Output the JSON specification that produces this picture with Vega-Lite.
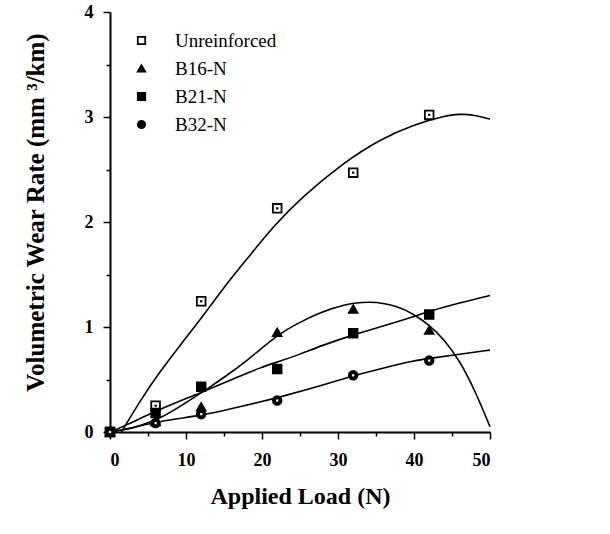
{
  "$schema": "https://vega.github.io/schema/vega-lite/v6.json",
  "width": 380,
  "height": 420,
  "autosize": "none",
  "padding": {"left": 110, "top": 12, "right": 120, "bottom": 102},
  "background": "white",
  "config": {"view": {"stroke": null}, "font": "Liberation Serif"},
  "datasets": {
    "points": [
      {"series": "Unreinforced", "load": 0, "rate": 0},
      {"series": "Unreinforced", "load": 6, "rate": 0.25},
      {"series": "Unreinforced", "load": 12, "rate": 1.245},
      {"series": "Unreinforced", "load": 22, "rate": 2.13},
      {"series": "Unreinforced", "load": 32, "rate": 2.47},
      {"series": "Unreinforced", "load": 42, "rate": 3.02},
      {"series": "B16-N", "load": 0, "rate": 0},
      {"series": "B16-N", "load": 6, "rate": 0.1},
      {"series": "B16-N", "load": 12, "rate": 0.24},
      {"series": "B16-N", "load": 22, "rate": 0.95},
      {"series": "B16-N", "load": 32, "rate": 1.17},
      {"series": "B16-N", "load": 42, "rate": 0.97},
      {"series": "B21-N", "load": 0, "rate": 0},
      {"series": "B21-N", "load": 6, "rate": 0.18},
      {"series": "B21-N", "load": 12, "rate": 0.43},
      {"series": "B21-N", "load": 22, "rate": 0.6},
      {"series": "B21-N", "load": 32, "rate": 0.94},
      {"series": "B21-N", "load": 42, "rate": 1.12},
      {"series": "B32-N", "load": 0, "rate": 0},
      {"series": "B32-N", "load": 6, "rate": 0.085},
      {"series": "B32-N", "load": 12, "rate": 0.17},
      {"series": "B32-N", "load": 22, "rate": 0.3},
      {"series": "B32-N", "load": 32, "rate": 0.54},
      {"series": "B32-N", "load": 42, "rate": 0.68}
    ],
    "curves": [
      {"series": "Unreinforced", "load": 1.5, "rate": 0},
      {"series": "Unreinforced", "load": 4, "rate": 0.3},
      {"series": "Unreinforced", "load": 6.3, "rate": 0.55},
      {"series": "Unreinforced", "load": 9.7, "rate": 0.87},
      {"series": "Unreinforced", "load": 12.5, "rate": 1.13},
      {"series": "Unreinforced", "load": 15.2, "rate": 1.4},
      {"series": "Unreinforced", "load": 18.5, "rate": 1.69},
      {"series": "Unreinforced", "load": 21.5, "rate": 1.96},
      {"series": "Unreinforced", "load": 25.3, "rate": 2.24},
      {"series": "Unreinforced", "load": 30.8, "rate": 2.57},
      {"series": "Unreinforced", "load": 35.6, "rate": 2.79},
      {"series": "Unreinforced", "load": 40, "rate": 2.93},
      {"series": "Unreinforced", "load": 44, "rate": 3.01},
      {"series": "Unreinforced", "load": 46, "rate": 3.03},
      {"series": "Unreinforced", "load": 48, "rate": 3.02},
      {"series": "Unreinforced", "load": 50, "rate": 2.98},
      {"series": "B16-N", "load": 0, "rate": 0},
      {"series": "B16-N", "load": 3, "rate": 0.03},
      {"series": "B16-N", "load": 7, "rate": 0.14},
      {"series": "B16-N", "load": 10, "rate": 0.28},
      {"series": "B16-N", "load": 13, "rate": 0.42},
      {"series": "B16-N", "load": 15.6, "rate": 0.55},
      {"series": "B16-N", "load": 18, "rate": 0.68},
      {"series": "B16-N", "load": 20, "rate": 0.8},
      {"series": "B16-N", "load": 22, "rate": 0.92},
      {"series": "B16-N", "load": 24.5, "rate": 1.03},
      {"series": "B16-N", "load": 27.7, "rate": 1.14},
      {"series": "B16-N", "load": 30.5, "rate": 1.21},
      {"series": "B16-N", "load": 34.2, "rate": 1.25},
      {"series": "B16-N", "load": 37.9, "rate": 1.2},
      {"series": "B16-N", "load": 40, "rate": 1.12},
      {"series": "B16-N", "load": 42, "rate": 1.02},
      {"series": "B16-N", "load": 44, "rate": 0.88},
      {"series": "B16-N", "load": 46, "rate": 0.68},
      {"series": "B16-N", "load": 48, "rate": 0.4},
      {"series": "B16-N", "load": 50, "rate": 0.05},
      {"series": "B21-N", "load": 0, "rate": 0},
      {"series": "B21-N", "load": 2, "rate": 0.06},
      {"series": "B21-N", "load": 6.3, "rate": 0.21},
      {"series": "B21-N", "load": 11.8, "rate": 0.37},
      {"series": "B21-N", "load": 16, "rate": 0.5},
      {"series": "B21-N", "load": 20, "rate": 0.62},
      {"series": "B21-N", "load": 22.2, "rate": 0.67},
      {"series": "B21-N", "load": 25, "rate": 0.74},
      {"series": "B21-N", "load": 27.7, "rate": 0.82},
      {"series": "B21-N", "load": 32.2, "rate": 0.93},
      {"series": "B21-N", "load": 36, "rate": 1.01},
      {"series": "B21-N", "load": 40, "rate": 1.1},
      {"series": "B21-N", "load": 42, "rate": 1.15},
      {"series": "B21-N", "load": 46, "rate": 1.23},
      {"series": "B21-N", "load": 50, "rate": 1.3},
      {"series": "B32-N", "load": 0, "rate": 0},
      {"series": "B32-N", "load": 3, "rate": 0.04},
      {"series": "B32-N", "load": 6.3, "rate": 0.1},
      {"series": "B32-N", "load": 12.2, "rate": 0.16},
      {"series": "B32-N", "load": 15.2, "rate": 0.21},
      {"series": "B32-N", "load": 20, "rate": 0.29},
      {"series": "B32-N", "load": 22.2, "rate": 0.33},
      {"series": "B32-N", "load": 27.7, "rate": 0.44},
      {"series": "B32-N", "load": 32.2, "rate": 0.54},
      {"series": "B32-N", "load": 36, "rate": 0.61},
      {"series": "B32-N", "load": 40, "rate": 0.68},
      {"series": "B32-N", "load": 42, "rate": 0.7},
      {"series": "B32-N", "load": 46, "rate": 0.74},
      {"series": "B32-N", "load": 50, "rate": 0.78}
    ]
  },
  "layer": [
    {
      "data": {"name": "curves"},
      "mark": {"type": "line", "interpolate": "basis", "color": "black", "strokeWidth": 1.6},
      "encoding": {
        "x": {
          "field": "load", "type": "quantitative",
          "scale": {"domain": [0, 50], "nice": false},
          "axis": {
            "orient": "bottom", "values": [0, 10, 20, 30, 40, 50], "grid": false,
            "domainColor": "black", "domainWidth": 2, "tickColor": "black", "tickWidth": 1.5, "tickSize": 7,
            "labelFont": "Liberation Serif", "labelFontWeight": "bold", "labelFontSize": 18, "labelColor": "black", "labelPadding": 12,
            "title": "Applied Load (N)", "titleFont": "Liberation Serif", "titleFontWeight": "bold", "titleFontSize": 24, "titleColor": "black",
            "titleY": 52
          }
        },
        "y": {
          "field": "rate", "type": "quantitative",
          "scale": {"domain": [0, 4], "nice": false},
          "axis": {
            "orient": "left", "values": [0, 1, 2, 3, 4], "grid": false,
            "domainColor": "black", "domainWidth": 2, "tickColor": "black", "tickWidth": 1.5, "tickSize": 7,
            "labelFont": "Liberation Serif", "labelFontWeight": "bold", "labelFontSize": 18, "labelColor": "black", "labelPadding": 10,
            "title": "Volumetric Wear Rate (mm ³/km)", "titleFont": "Liberation Serif", "titleFontWeight": "bold", "titleFontSize": 25, "titleColor": "black",
            "titleX": -75, "titleY": 200, "titleAlign": "center", "titleBaseline": "middle", "titleAngle": -90
          }
        },
        "detail": {"field": "series"}
      }
    },
    {
      "data": {"name": "points"},
      "mark": {"type": "point", "filled": true, "strokeWidth": 1.8, "size": 75, "opacity": 1},
      "encoding": {
        "x": {"field": "load", "type": "quantitative", "axis": null},
        "y": {"field": "rate", "type": "quantitative", "axis": null},
        "shape": {
          "field": "series", "type": "nominal",
          "scale": {"domain": ["Unreinforced", "B16-N", "B21-N", "B32-N"], "range": ["square", "triangle-up", "square", "circle"]},
          "legend": {
            "title": null, "orient": "none", "legendX": 22, "legendY": 19,
            "labelFont": "Liberation Serif", "labelFontSize": 19, "labelColor": "black", "labelOffset": 24,
            "rowPadding": 8, "symbolSize": 55, "symbolStrokeWidth": 1.8
          }
        },
        "fill": {
          "field": "series", "type": "nominal",
          "scale": {"domain": ["Unreinforced", "B16-N", "B21-N", "B32-N"], "range": ["white", "black", "black", "black"]},
          "legend": {
            "title": null, "orient": "none", "legendX": 22, "legendY": 19,
            "labelFont": "Liberation Serif", "labelFontSize": 19, "labelColor": "black", "labelOffset": 24,
            "rowPadding": 8, "symbolSize": 55, "symbolStrokeWidth": 1.8
          }
        },
        "stroke": {
          "field": "series", "type": "nominal",
          "scale": {"domain": ["Unreinforced", "B16-N", "B21-N", "B32-N"], "range": ["black", "black", "black", "black"]},
          "legend": {
            "title": null, "orient": "none", "legendX": 22, "legendY": 19,
            "labelFont": "Liberation Serif", "labelFontSize": 19, "labelColor": "black", "labelOffset": 24,
            "rowPadding": 8, "symbolSize": 55, "symbolStrokeWidth": 1.8
          }
        }
      }
    },
    {
      "data": {"name": "points"},
      "transform": [{"filter": "datum.series === 'Unreinforced' || datum.series === 'B32-N'"}],
      "mark": {"type": "square", "size": 5, "opacity": 1},
      "encoding": {
        "x": {"field": "load", "type": "quantitative", "axis": null},
        "y": {"field": "rate", "type": "quantitative", "axis": null},
        "color": {"condition": {"test": "datum.series === 'B32-N'", "value": "white"}, "value": "black"}
      }
    },
    {
      "data": {"name": "points"},
      "mark": {"type": "point", "opacity": 0},
      "encoding": {
        "x": {
          "field": "load", "type": "quantitative",
          "axis": {"orient": "bottom", "values": [5, 15, 25, 35, 45], "labels": false, "domain": false, "grid": false, "tickColor": "black", "tickWidth": 1.5, "tickSize": 4, "title": null}
        },
        "y": {
          "field": "rate", "type": "quantitative",
          "axis": {"orient": "left", "values": [0.5, 1.5, 2.5, 3.5], "labels": false, "domain": false, "grid": false, "tickColor": "black", "tickWidth": 1.5, "tickSize": 4, "title": null}
        }
      }
    }
  ],
  "resolve": {"axis": {"x": "independent", "y": "independent"}}
}
